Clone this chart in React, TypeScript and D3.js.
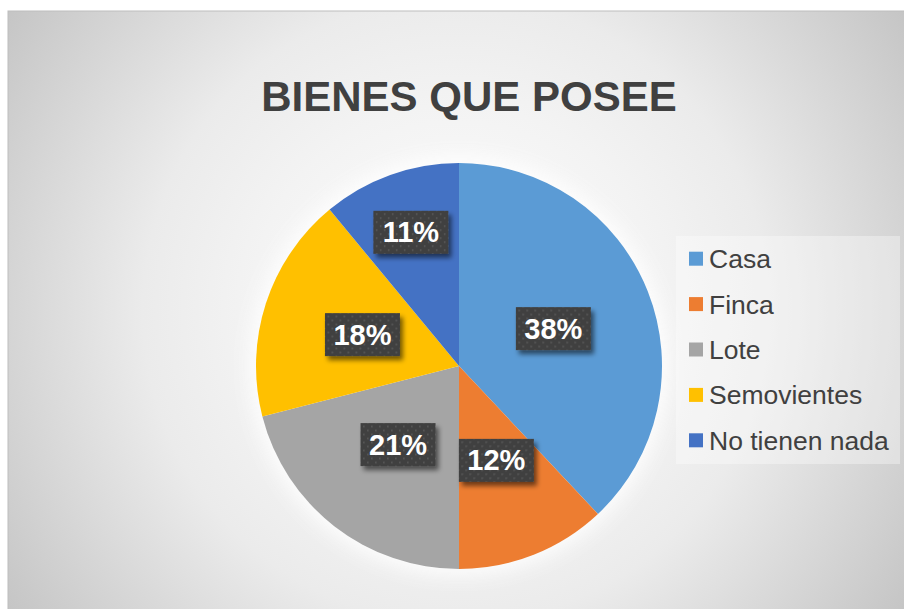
import React from "react";
import * as d3 from "d3";

const categories = ["Casa", "Finca", "Lote", "Semovientes", "No tienen nada"];
const values = [38, 12, 21, 18, 11];
const colors = ["#5B9BD5", "#ED7D31", "#A5A5A5", "#FFC000", "#4472C4"];
const labelRadiusFactor = [0.5, 0.5, 0.49, 0.5, 0.7];
const title = "BIENES QUE POSEE";

const W = 904;
const H = 609;

export default function App() {
  const cx = 459;
  const cy = 366;
  const r = 203;
  const total = d3.sum(values);
  const pie = d3.pie<number>().sort(null).value((d) => d)(values);
  const arc = d3.arc<d3.PieArcDatum<number>>().innerRadius(0).outerRadius(r);
  const legendY = d3.scaleBand<string>().domain(categories).range([236, 463]);

  return (
    <svg width={W} height={H} style={{ position: "absolute", left: 0, top: 0 }} fontFamily="'Liberation Sans', Arial, sans-serif">
      <defs>
        <radialGradient id="bg" gradientUnits="userSpaceOnUse" cx={456} cy={310} r={540}>
          <stop offset="0" stopColor="#ffffff" />
          <stop offset="0.38" stopColor="#f3f3f3" />
          <stop offset="0.58" stopColor="#ebebeb" />
          <stop offset="1" stopColor="#c5c5c5" />
        </radialGradient>
        <pattern id="dots" width={8} height={8} patternUnits="userSpaceOnUse">
          <rect width={8} height={8} fill="#404040" />
          <rect x={1} y={1} width={1.6} height={1.6} fill="#5a5a5a" />
          <rect x={5} y={5} width={1.6} height={1.6} fill="#5a5a5a" />
        </pattern>
        <filter id="shadow" x="-20%" y="-20%" width="150%" height="160%">
          <feGaussianBlur in="SourceAlpha" stdDeviation={2.5} />
          <feOffset dx={3} dy={4} result="b" />
          <feComponentTransfer>
            <feFuncA type="linear" slope={0.55} />
          </feComponentTransfer>
          <feMerge>
            <feMergeNode />
            <feMergeNode in="SourceGraphic" />
          </feMerge>
        </filter>
        <filter id="glow" x="-20%" y="-20%" width="140%" height="140%">
          <feGaussianBlur stdDeviation={10} />
        </filter>
      </defs>
      <rect x={8} y={11} width={W} height={H} fill="url(#bg)" stroke="#bdbdbd" strokeWidth={1} />
      <text x={469} y={111} textAnchor="middle" fontSize={42} fontWeight="bold" fill="#404040">
        {title}
      </text>
      <circle cx={cx} cy={cy} r={r + 6} fill="#ffffff" opacity={0.9} filter="url(#glow)" />
      <g transform={`translate(${cx},${cy})`}>
        {pie.map((d, i) => (
          <path key={categories[i]} d={arc(d) || ""} fill={colors[i]} />
        ))}
        {pie.map((d, i) => {
          const a = (d.startAngle + d.endAngle) / 2;
          const rr = r * labelRadiusFactor[i];
          const x = Math.sin(a) * rr;
          const y = -Math.cos(a) * rr;
          const bw = 75;
          const bh = 43;
          return (
            <g key={"l" + i} transform={`translate(${x},${y})`}>
              <rect x={-bw / 2} y={-bh / 2} width={bw} height={bh} fill="url(#dots)" filter="url(#shadow)" />
              <text x={0} y={10} textAnchor="middle" fontSize={29} fontWeight="bold" fill="#ffffff">
                {Math.round((values[i] / total) * 100) + "%"}
              </text>
            </g>
          );
        })}
      </g>
      <rect x={676} y={236} width={224} height={228} fill="#ffffff" opacity={0.35} />
      {categories.map((c, i) => {
        const y = (legendY(c) || 0) + legendY.bandwidth() / 2;
        return (
          <g key={"lg" + c}>
            <rect x={689} y={y - 7} width={14} height={14} fill={colors[i]} />
            <text x={709} y={y + 9.5} fontSize={26.5} fill="#404040">
              {c}
            </text>
          </g>
        );
      })}
    </svg>
  );
}
